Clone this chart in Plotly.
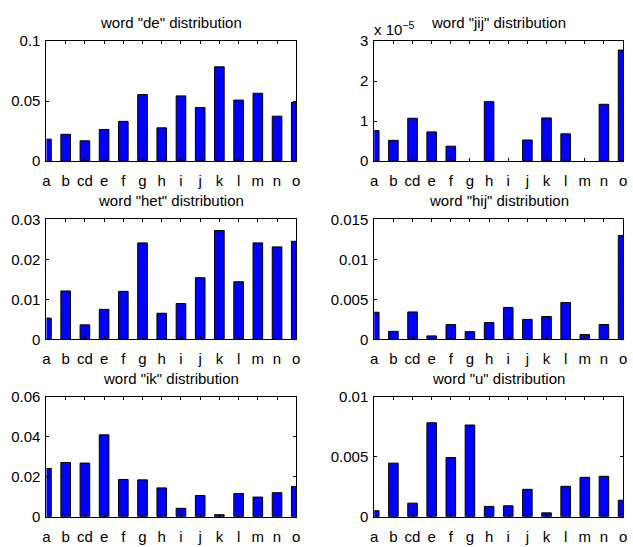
import plotly.graph_objects as go

W, H = 633, 547

labels = ["a", "b", "cd", "e", "f", "g", "h", "i", "j", "k", "l", "m", "n", "o"]
positions = list(range(1, 15))

de_vals = [0.0183, 0.0223, 0.0169, 0.0263, 0.0331, 0.0554, 0.0277,
           0.0543, 0.0446, 0.0785, 0.0508, 0.0565, 0.0374, 0.0489]
jij_vals = [0.762e-5, 0.519e-5, 1.070e-5, 0.730e-5, 0.373e-5, 0.0, 1.484e-5,
            0.0, 0.527e-5, 1.078e-5, 0.681e-5, 0.0, 1.419e-5, 2.773e-5]
het_vals = [0.00532, 0.0121, 0.00363, 0.0075, 0.0120, 0.0241, 0.00653,
            0.00895, 0.0154, 0.0272, 0.0144, 0.0241, 0.0231, 0.0245]
hij_vals = [0.00339, 0.00101, 0.00343, 0.00044, 0.00185, 0.00097, 0.0021,
            0.00399, 0.0025, 0.00286, 0.0046, 0.0006, 0.00185, 0.01298]
ik_vals = [0.0241, 0.0271, 0.0268, 0.0409, 0.0186, 0.0184, 0.0144,
           0.0042, 0.0106, 0.0010, 0.0116, 0.0098, 0.0120, 0.0151]
u_vals = [0.0005, 0.00446, 0.00113, 0.00782, 0.00492, 0.00763, 0.00086,
          0.00091, 0.00228, 0.00032, 0.00253, 0.00328, 0.00336, 0.00137]

titles = ['word "de" distribution', 'word "jij" distribution',
          'word "het" distribution', 'word "hij" distribution',
          'word "ik" distribution', 'word "u" distribution']
series = [de_vals, jij_vals, het_vals, hij_vals, ik_vals, u_vals]
yranges = [[0, 0.1], [0, 3e-5], [0, 0.03], [0, 0.015], [0, 0.06], [0, 0.01]]
ytickvals = [[0, 0.05, 0.1], [0, 1e-5, 2e-5, 3e-5], [0, 0.01, 0.02, 0.03],
             [0, 0.005, 0.01, 0.015], [0, 0.02, 0.04, 0.06], [0, 0.005, 0.01]]
yticktext = [["0", "0.05", "0.1"], ["0", "1", "2", "3"], ["0", "0.01", "0.02", "0.03"],
             ["0", "0.005", "0.01", "0.015"], ["0", "0.02", "0.04", "0.06"],
             ["0", "0.005", "0.01"]]

cols = [(43, 296), (375, 627)]
rows = [(33, 157), (217, 341), (400, 524)]

font = "Liberation Sans, Arial, Helvetica, sans-serif"
fig = go.Figure()
layout = dict(width=W, height=H, margin=dict(l=0, r=0, t=0, b=0),
              paper_bgcolor="white", plot_bgcolor="white", showlegend=False,
              font=dict(family=font, color="black"))
annotations = []
for i in range(6):
    r, c = divmod(i, 2)
    l, rr = cols[c]
    t, b = rows[r]
    n = "" if i == 0 else str(i + 1)
    edge_w = [0 if v == 0 else 1 for v in series[i]]
    fig.add_trace(go.Bar(x=positions, y=series[i], width=0.5,
                         marker=dict(color="#0000ff", line=dict(color="black", width=edge_w)),
                         xaxis="x" + n, yaxis="y" + n))
    layout["xaxis" + n] = dict(domain=[l / W, rr / W], range=[1, 14], anchor="y" + n,
                               tickvals=positions, ticktext=labels,
                               ticks="inside", ticklen=3, tickcolor="black",
                               showline=True, linecolor="black", linewidth=1,
                               mirror="allticks", showgrid=False, zeroline=False,
                               ticklabelstandoff=6,
                               tickfont=dict(size=15, family=font, color="black"))
    layout["yaxis" + n] = dict(domain=[1 - b / H, 1 - t / H], range=yranges[i],
                               anchor="x" + n, tickvals=ytickvals[i], ticktext=yticktext[i],
                               ticks="inside", ticklen=3, tickcolor="black",
                               showline=True, linecolor="black", linewidth=1,
                               mirror="allticks", showgrid=False, zeroline=False,
                               ticklabelstandoff=2,
                               tickfont=dict(size=15, family=font, color="black"))
    annotations.append(dict(text=titles[i], x=(l + rr) / 2 / W, y=1 - (t - 19) / H,
                            xref="paper", yref="paper", showarrow=False,
                            xanchor="center", yanchor="middle",
                            font=dict(size=15, family=font, color="black")))

annotations.append(dict(text="x 10<sup>−5</sup>", x=373 / W, y=1 - 20 / H,
                        xref="paper", yref="paper", showarrow=False,
                        xanchor="left", yanchor="middle",
                        font=dict(size=15, family=font, color="black")))
layout["annotations"] = annotations
fig.update_layout(**layout)
fig.write_html("out.html")
